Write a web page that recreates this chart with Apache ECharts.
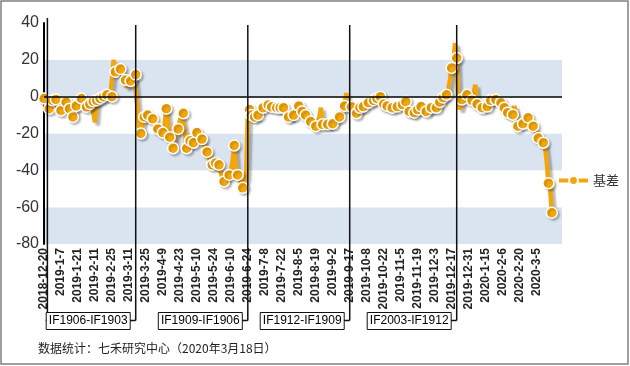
<!DOCTYPE html>
<html>
<head>
<meta charset="utf-8">
<script src="https://cdn.jsdelivr.net/npm/echarts@6/dist/echarts.min.js"></script>
<style>
html,body{margin:0;padding:0;background:#fff;}
#c{width:630px;height:366px;}
</style>
</head>
<body>
<div id="c"></div>
<script>
// ---- trading-day categories (China market calendar) ----
const holidays = ['2018-12-31','2019-1-1','2019-2-4','2019-2-5','2019-2-6','2019-2-7','2019-2-8',
  '2019-4-5','2019-5-1','2019-5-2','2019-5-3','2019-6-7','2019-9-13',
  '2019-10-1','2019-10-2','2019-10-3','2019-10-4','2019-10-7',
  '2020-1-1','2020-1-24','2020-1-27','2020-1-28','2020-1-29','2020-1-30','2020-1-31'];
const categoryCount = 306;
function buildDates(){
  const out = [];
  const d = new Date(2018, 11, 20);
  while (out.length < categoryCount) {
    const s = d.getFullYear() + '-' + (d.getMonth()+1) + '-' + d.getDate();
    const wd = d.getDay();
    if (wd !== 0 && wd !== 6 && holidays.indexOf(s) < 0) out.push(s);
    d.setDate(d.getDate() + 1);
  }
  return out;
}
const categories = buildDates();

// ---- basis values (daily) ----
const basis = [
  -1,-3,-5,-6.5,-4,-2,-3,-1.5,-4,-6,
  -7.5,-5,-4,-3,-5,-6.5,-9,-11,-12,-5,
  -3,-2,-1,-3,-6,-5.5,-4,-4,-3,-2.5,
  -14,-2,-2,-1,-1.5,0,0.5,1,0,-0.5,
  0,20,13.5,17,12,15,13,10,9,5,
  9,8.5,10,12,12,-6,-17,-20,-14,-11,
  -12,-10,-13,-14,-12,-15,-17,-17.5,-18,-19,
  -19.5,-15,-6.5,-14,-22,-25,-28,-22,-19,-17.5,
  -13,-10,-9,-20,-28,-26,-24,-23,-25,-22,
  -19.5,-21,-22,-23,-26,-28,-30,-33,-35,-37,
  -38,-36,-39,-37,-41,-44,-46,-44,-43,-42.5,
  -40,-35,-26.5,-38,-42.5,-44,-47,-49.5,-49,-44,
  -9,-7,-10,-12,-11,-10,-10,-8,-7,-6,
  -5,-4,-4.5,-6,-5.5,-6,-7,-6,-5,-6,
  -7,-6,-8,-10,-11,-12,-10.5,-10,-8,-6,
  -5,-6,-8,-9,-10,-12,-13,-13.5,-15,-16,
  -16,-17,-12,-6,-15,-16,-15.5,-15,-16,-15,
  -14.7,-15,-13,-12,-11,-9,-7,-5,2,-4,
  -6,-5.5,-7,-8,-9,-8,-6,-6,-5.4,-4,
  -4,-3.3,-3,-2.5,-2,-1.5,-1,-0.5,0,-2,
  -4,-5,-5,-6,-7,-6,-5,-5,-5.4,-5,
  -4.5,-4.3,-3,-2.7,-5,-8,-9,-10,-8.7,-8,
  -7,-6,-5.4,-6,-7,-8,-8.5,-7,-6,-6,
  -7,-6,-5,-3,-1.5,-0.5,0,1,4,9,
  15.6,18,29,21,-3,-7,-1.6,-1,0,1,
  1,0,-2,-2.7,6.5,-4,-5.4,-6,-6,-6.5,
  -5.5,-5.4,-4,-2,-1.6,-2,-1.6,-2,-3,-3.3,
  -4,-6,-8,-8.7,-9,-9.5,-9.8,-5,-12,-16,
  -15,-14,-14.7,-13,-12,-11.4,-13,-15,-16,-18,
  -20,-22.5,-23,-24,-25,-27,-35,-47,-50,-63
];
// points drawn with a marker
const markerIdx = [0,3,5,7,10,13,15,17,19,22,25,27,29,31,33,35,37,40,42,45,48,51,54,57,59,61,64,67,70,72,74,76,79,82,84,86,88,90,93,96,99,
  101,103,106,109,112,114,117,121,122,124,126,129,132,134,137,139,141,144,147,150,152,154,157,160,164,167,170,174,177,181,184,186,188,
  191,194,196,198,200,202,205,208,211,213,215,218,220,222,225,228,231,233,235,237,240,243,246,249,252,255,258,261,263,266,269,271,273,276,279,
  282,285,288,291,294,297,299];

const yTicks = {min: -80, max: 40, interval: 20};
const seriesName = '基差';
const rolloverDates = ['2018-12-24','2019-3-15','2019-6-24','2019-9-17','2019-12-20'];
const contractLabels = ['IF1906-IF1903','IF1909-IF1906','IF1912-IF1909','IF2003-IF1912'];
const footnote = '数据统计：七禾研究中心（2020年3月18日）';

const ORANGE = '#f2a60c';
const seriesData = categories.map((c, i) => {
  if (i >= basis.length) return null;
  const show = markerIdx.indexOf(i) >= 0;
  return show ? {value: basis[i]} : {value: basis[i], symbol: 'none'};
});

const chart = echarts.init(document.getElementById('c'), null, {renderer: 'canvas'});
const FONT = '"Liberation Sans", Arial, sans-serif';
chart.setOption({
  animation: false,
  backgroundColor: '#ffffff',
  textStyle: {fontFamily: FONT},
  grid: {left: 44, right: 68, top: 23, bottom: 122, containLabel: false},
  legend: {
    left: 552, top: 169, itemWidth: 29, itemHeight: 11, itemGap: 6, padding: 5,
    data: [seriesName],
    lineStyle: {width: 4},
    textStyle: {fontSize: 13, color: '#333', fontFamily: '"Noto Sans CJK SC", sans-serif'}
  },
  xAxis: {
    type: 'category', data: categories, boundaryGap: false,
    axisLine: {show: false, onZero: false},
    axisTick: {show: false},
    splitLine: {show: false},
    axisLabel: {
      rotate: 90, fontSize: 12, color: '#222', margin: 4, fontWeight: 'bold',
      interval: function(i){ return i % 10 === 0 && i <= 290; }
    }
  },
  yAxis: {
    type: 'value', min: yTicks.min, max: yTicks.max, interval: yTicks.interval,
    axisLine: {show: true, lineStyle: {color: '#000', width: 2}},
    axisTick: {show: false},
    splitLine: {show: false},
    splitArea: {show: true, areaStyle: {color: ['#dae4f0', '#ffffff']}},
    axisLabel: {fontSize: 16, color: '#333', margin: 5}
  },
  series: [{
    name: seriesName, type: 'line', data: seriesData,
    showAllSymbol: true, symbol: 'circle', symbolSize: 11,
    connectNulls: false,
    lineStyle: {color: ORANGE, width: 4.5, shadowColor: 'rgba(0,0,0,0.28)', shadowBlur: 2, shadowOffsetX: 3, shadowOffsetY: 3},
    itemStyle: {color: ORANGE, borderColor: '#ffffff', borderWidth: 1.5, shadowColor: 'rgba(0,0,0,0.22)', shadowBlur: 2, shadowOffsetX: 2, shadowOffsetY: 2},
    emphasis: {disabled: true},
    markLine: {
      silent: true, symbol: 'none', label: {show: false},
      lineStyle: {color: '#000', width: 1.5, type: 'solid'},
      data: [{yAxis: 0}]
    },
    z: 3
  }]
});

// ---- rollover lines, contract boxes, footnote, frame ----
const xs = rolloverDates.map(d => chart.convertToPixel({xAxisIndex: 0}, d));
const topY = chart.convertToPixel({yAxisIndex: 0}, yTicks.max);
const g = [];
const connY = 320.5;
xs.forEach((x, i) => {
  g.push({type: 'line', z: 10, shape: {x1: x, y1: i === 0 ? topY - 5 : topY + 2, x2: x, y2: connY},
    style: {stroke: '#111', lineWidth: 1.5}});
});
contractLabels.forEach((t, i) => {
  const x = xs[i + 1];
  const left = x - 90, w = 84;
  g.push({type: 'line', z: 10, shape: {x1: left + w, y1: connY, x2: x, y2: connY}, style: {stroke: '#111', lineWidth: 1.5}});
  g.push({type: 'rect', z: 11, shape: {x: left + 0.5, y: 312.5, width: w, height: 17},
    style: {fill: '#fff', stroke: '#111', lineWidth: 1}});
  g.push({type: 'text', z: 12, x: left + w / 2 + 0.5, y: 321, style: {text: t, fontSize: 12, fontFamily: FONT,
    fill: '#000', textAlign: 'center', textVerticalAlign: 'middle'}});
});
g.push({type: 'line', z: 10, shape: {x1: xs[0], y1: connY, x2: xs[1] - 90, y2: connY}, style: {stroke: '#111', lineWidth: 1.5}});
g.push({type: 'text', z: 12, x: 38, y: 348, style: {text: footnote, fontSize: 12,
  fontFamily: '"Noto Sans CJK SC", sans-serif', fill: '#222', textVerticalAlign: 'middle'}});
g.push({type: 'rect', z: 0, silent: true, shape: {x: 1, y: 1, width: 627, height: 363},
  style: {fill: 'none', stroke: '#808080', lineWidth: 1.5}});
chart.setOption({graphic: g});
</script>
</body>
</html>
